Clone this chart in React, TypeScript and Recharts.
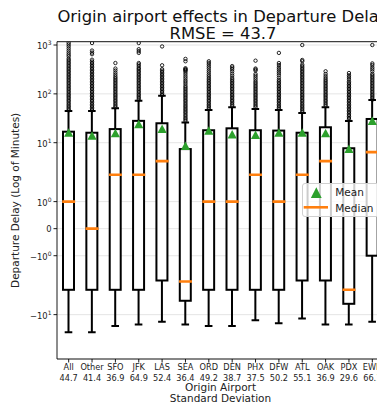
import React from "react";
import {
  ComposedChart,
  Bar,
  Scatter,
  XAxis,
  YAxis,
  CartesianGrid,
  ReferenceLine,
  Legend,
  Label,
} from "recharts";

const airports = ["All", "Other", "SFO", "JFK", "LAS", "SEA", "ORD", "DEN", "PHX", "DFW", "ATL", "OAK", "PDX", "EWR"];
const stdDevs = [44.7, 41.4, 36.9, 64.9, 52.4, 36.4, 49.2, 38.7, 37.5, 50.2, 55.1, 36.9, 29.6, 66.1];

// box statistics, minutes
const whiskerLow = [-23, -23, -17, -16, -14, -16, -17, -17, -13, -15, -12, -16, -16, -14];
const q1 = [-3.1, -3.1, -3.1, -3.1, -2, -5.2, -3.1, -3.1, -3.1, -3.1, -2, -2, -6, -1];
const medians = [1, 0, 2.2, 2.2, 4.2, -2.1, 1, 1, 2.2, 1, 2.2, 4.2, -3.1, 6.4];
const q3 = [16.8, 16, 19, 28, 25, 7.4, 18, 19.7, 18, 17.7, 16, 20.7, 7.7, 30.6];
const whiskerHigh = [44.5, 44.5, 50.6, 72, 92, 26, 47, 53, 49, 46.7, 40.6, 53, 27.8, 75];
const means = [16, 13.9, 15.6, 24, 19, 8.6, 17.5, 14.8, 14.3, 16, 16, 15.6, 7.4, 27.8];

const outlierValues = [
  [46, 49.5, 53, 57, 61, 66, 71, 76, 82, 88, 94, 101, 109, 117, 126, 135, 145, 156, 168, 180, 194, 208, 224, 240, 258, 278, 298, 320, 344, 370, 398, 428, 460, 494, 531, 590, 640, 700, 770, 850, 940, 1030, 1120],
  [46, 49.5, 53, 57, 61, 66, 71, 76, 82, 88, 94, 101, 109, 117, 126, 135, 145, 156, 168, 180, 194, 208, 224, 240, 258, 278, 298, 320, 344, 370, 398, 428, 460, 500, 650, 700, 770, 1100],
  [53, 57, 61, 66, 71, 76, 82, 88, 94, 101, 109, 117, 126, 135, 145, 156, 168, 180, 194, 208, 224, 245, 270, 300, 330, 428],
  [76, 82, 88, 94, 101, 109, 117, 126, 135, 145, 156, 168, 180, 194, 208, 224, 240, 258, 278, 298, 320, 340, 370, 400, 428, 690, 750, 820, 1100],
  [94, 101, 109, 117, 126, 135, 145, 156, 168, 180, 194, 208, 224, 240, 258, 278, 298, 320, 385, 935],
  [28, 30, 32, 34.5, 37, 40, 43, 46, 49.5, 53, 57, 61, 66, 71, 76, 82, 88, 94, 101, 109, 117, 126, 135, 145, 160, 175, 190, 210, 230, 255, 280, 300, 310, 320, 335, 465, 520],
  [49.5, 53, 57, 61, 66, 71, 76, 82, 88, 94, 101, 109, 117, 126, 135, 145, 156, 168, 180, 194, 210, 230, 250, 275, 300, 330, 360, 395, 430, 465],
  [57, 61, 66, 71, 76, 82, 88, 94, 101, 109, 117, 126, 135, 145, 156, 168, 180, 194, 210, 235, 260, 290, 320, 345, 370],
  [53, 57, 61, 66, 71, 76, 82, 88, 94, 101, 109, 117, 126, 135, 145, 156, 168, 180, 197, 215, 235, 255, 300, 315, 330, 478],
  [49.5, 53, 57, 61, 66, 71, 76, 82, 88, 94, 101, 109, 117, 126, 135, 145, 156, 168, 180, 194, 215, 240, 265, 290, 320, 350, 390, 428, 690],
  [43, 46, 49.5, 53, 57, 61, 66, 71, 76, 82, 88, 94, 101, 109, 117, 126, 135, 145, 156, 168, 180, 194, 208, 224, 240, 258, 278, 298, 320, 344, 370, 398, 465, 494, 1000],
  [57, 61, 66, 71, 76, 82, 88, 94, 101, 109, 117, 126, 135, 145, 156, 168, 180, 194, 210, 230, 255, 290],
  [30, 32, 34.5, 37, 40, 43, 46, 49.5, 53, 57, 61, 66, 71, 76, 82, 88, 94, 101, 109, 117, 126, 135, 145, 156, 168, 180, 200, 220, 240, 267],
  [76, 82, 88, 94, 101, 109, 117, 126, 135, 145, 156, 168, 180, 194, 208, 224, 240, 258, 290, 320, 350, 390, 420, 1000],
];

const yTickValues = [-10, -1, 0, 1, 10, 100, 1000];
const yLimits = [-81, 1170];

// symmetric log: linear close to zero, log10 further out
const LINTHRESH = 1.86;
const LINSCALE = 1.03;
const symlog = (v: number) => {
  const a = Math.abs(v);
  if (a <= LINTHRESH) return (v / LINTHRESH) * LINSCALE;
  return Math.sign(v) * (LINSCALE + Math.log10(a / LINTHRESH));
};

const rows = airports.map((name, i) => ({
  name,
  lowT: [symlog(whiskerLow[i]), symlog(q1[i])],
  boxT: [symlog(q1[i]), symlog(q3[i])],
  highT: [symlog(q3[i]), symlog(whiskerHigh[i])],
  medT: symlog(medians[i]),
  meanT: symlog(means[i]),
}));

const fliers = airports.flatMap((name, i) =>
  outlierValues[i].map((v) => ({ name, vT: symlog(v) }))
);

const FONT = "DejaVu Sans";
const GREEN = "#2ca02c";
const ORANGE = "#ff7f0e";

const spanOf = (p: any) => {
  const top = Math.min(p.y, p.y + p.height);
  const bottom = Math.max(p.y, p.y + p.height);
  return { cx: p.x + p.width / 2, top, bottom };
};

const LowerWhisker = (p: any) => {
  const { cx, top, bottom } = spanOf(p);
  return (
    <g>
      <line x1={cx} x2={cx} y1={top} y2={bottom} stroke="#000" strokeWidth={2} />
      <line x1={cx - 3.8} x2={cx + 3.8} y1={bottom} y2={bottom} stroke="#000" strokeWidth={2} />
    </g>
  );
};

const UpperWhisker = (p: any) => {
  const { cx, top, bottom } = spanOf(p);
  return (
    <g>
      <line x1={cx} x2={cx} y1={top} y2={bottom} stroke="#000" strokeWidth={2} />
      <line x1={cx - 3.8} x2={cx + 3.8} y1={top} y2={top} stroke="#000" strokeWidth={2} />
    </g>
  );
};

const BoxShape = (p: any) => {
  const { top, bottom } = spanOf(p);
  return (
    <rect x={p.x} y={top} width={p.width} height={bottom - top} fill="#fff" stroke="#000" strokeWidth={2} />
  );
};

const MedianShape = (p: any) => (
  <line x1={p.cx - 6.5} x2={p.cx + 6.5} y1={p.cy} y2={p.cy} stroke={ORANGE} strokeWidth={2.6} />
);

const MeanShape = (p: any) => (
  <polygon
    points={`${p.cx},${p.cy - 4.5} ${p.cx - 4.6},${p.cy + 4} ${p.cx + 4.6},${p.cy + 4}`}
    fill={GREEN}
  />
);

const FlierShape = (p: any) => (
  <circle cx={p.cx} cy={p.cy} r={1.7} fill="none" stroke="#000" strokeWidth={0.85} />
);

const YTick = ({ x, y, payload }: any) => {
  const raw = yTickValues.find((t) => Math.abs(symlog(t) - payload.value) < 1e-6);
  if (raw === undefined) return null;
  if (raw === 0) {
    return (
      <text x={x} y={y + 3} textAnchor="end" fontSize={8.4} fontFamily={FONT} fill="#222">
        0
      </text>
    );
  }
  const exp = Math.round(Math.log10(Math.abs(raw)));
  return (
    <text x={x} y={y + 4} textAnchor="end" fontSize={8.4} fontFamily={FONT} fill="#222">
      {raw < 0 ? "\u2212" : ""}10
      <tspan dy={-4} fontSize={6}>
        {exp}
      </tspan>
    </text>
  );
};

const XTick = ({ x, y, payload }: any) => {
  const i = airports.indexOf(payload.value);
  return (
    <g fontSize={8.2} fontFamily={FONT} fill="#222">
      <text x={x} y={y + 5.5} textAnchor="middle">
        {payload.value}
      </text>
      <text x={x} y={y + 16} textAnchor="middle">
        {i >= 0 ? stdDevs[i].toFixed(1) : ""}
      </text>
    </g>
  );
};

const XLabel = ({ viewBox }: any) => {
  const cx = viewBox.x + viewBox.width / 2;
  return (
    <g fontSize={10.5} fontFamily={FONT} fill="#222">
      <text x={cx} y={viewBox.y + 32} textAnchor="middle">
        Origin Airport
      </text>
      <text x={cx} y={viewBox.y + 43} textAnchor="middle">
        Standard Deviation
      </text>
    </g>
  );
};

const YLabel = ({ viewBox }: any) => {
  const cx = viewBox.x + 19;
  const cy = viewBox.y + viewBox.height / 2;
  return (
    <text
      x={cx}
      y={cy}
      transform={`rotate(-90, ${cx}, ${cy})`}
      textAnchor="middle"
      fontSize={10.5}
      fontFamily={FONT}
      fill="#222"
    >
      Departure Delay (Log of Minutes)
    </text>
  );
};

const LegendBox = () => (
  <svg width={90} height={34} style={{ display: "block" }}>
    <rect x={0.5} y={0.5} width={89} height={33} rx={2.5} fill="#fff" fillOpacity={0.8} stroke="#d0d0d0" />
    <polygon points="14.3,4.3 8.9,15 19.7,15" fill={GREEN} />
    <text x={33.3} y={13.3} fontSize={10.5} fontFamily={FONT} fill="#222">
      Mean
    </text>
    <line x1={1.7} x2={26} y1={24.3} y2={24.3} stroke={ORANGE} strokeWidth={2.6} />
    <text x={33.3} y={28.5} fontSize={10.5} fontFamily={FONT} fill="#222">
      Median
    </text>
  </svg>
);

export default function App() {
  return (
    <div
      style={{
        position: "fixed",
        left: 0,
        top: 0,
        width: 377,
        height: 409,
        overflow: "hidden",
        background: "#fff",
        fontFamily: FONT,
      }}
    >
      <svg width={377} height={44} style={{ position: "absolute", left: 0, top: 0, zIndex: 2 }}>
        <text x={223} y={21.5} textAnchor="middle" fontSize={16.4} fontFamily={FONT} fill="#111">
          Origin airport effects in Departure Delay
        </text>
        <text x={223} y={39.3} textAnchor="middle" fontSize={16.4} fontFamily={FONT} fill="#111">
          RMSE = 43.7
        </text>
      </svg>

      <ComposedChart
        width={400}
        height={409}
        data={rows}
        margin={{ top: 41.7, right: 16, bottom: 0, left: 0 }}
        barGap={-11}
      >
        <CartesianGrid horizontal vertical={false} stroke="#dedede" strokeWidth={0.8} />

        <XAxis
          dataKey="name"
          type="category"
          allowDuplicatedCategory={false}
          interval={0}
          height={50}
          tickSize={3.5}
          tickMargin={2}
          tick={<XTick />}
          axisLine={{ stroke: "#000", strokeWidth: 0.9 }}
          tickLine={{ stroke: "#000", strokeWidth: 0.9 }}
        >
          <Label content={<XLabel />} />
        </XAxis>

        <YAxis
          type="number"
          width={57}
          domain={[symlog(yLimits[0]), symlog(yLimits[1])]}
          allowDataOverflow
          ticks={yTickValues.map(symlog)}
          interval={0}
          tickSize={3.5}
          tickMargin={2}
          tick={<YTick />}
          axisLine={{ stroke: "#000", strokeWidth: 0.9 }}
          tickLine={{ stroke: "#000", strokeWidth: 0.9 }}
        >
          <Label content={<YLabel />} />
        </YAxis>

        <ReferenceLine y={symlog(yLimits[1])} stroke="#000" strokeWidth={0.9} />

        <Bar dataKey="lowT" barSize={11} shape={<LowerWhisker />} isAnimationActive={false} />
        <Bar dataKey="highT" barSize={11} shape={<UpperWhisker />} isAnimationActive={false} />
        <Bar dataKey="boxT" barSize={11} shape={<BoxShape />} isAnimationActive={false} />

        <Scatter data={fliers} dataKey="vT" shape={<FlierShape />} isAnimationActive={false} />
        <Scatter dataKey="medT" shape={<MedianShape />} isAnimationActive={false} />
        <Scatter dataKey="meanT" shape={<MeanShape />} isAnimationActive={false} />

        <Legend
          layout="horizontal"
          verticalAlign="middle"
          align="center"
          width={90}
          height={34}
          content={<LegendBox />}
          wrapperStyle={{ left: 302, top: 183, width: 90, height: 34 }}
        />
      </ComposedChart>
    </div>
  );
}
